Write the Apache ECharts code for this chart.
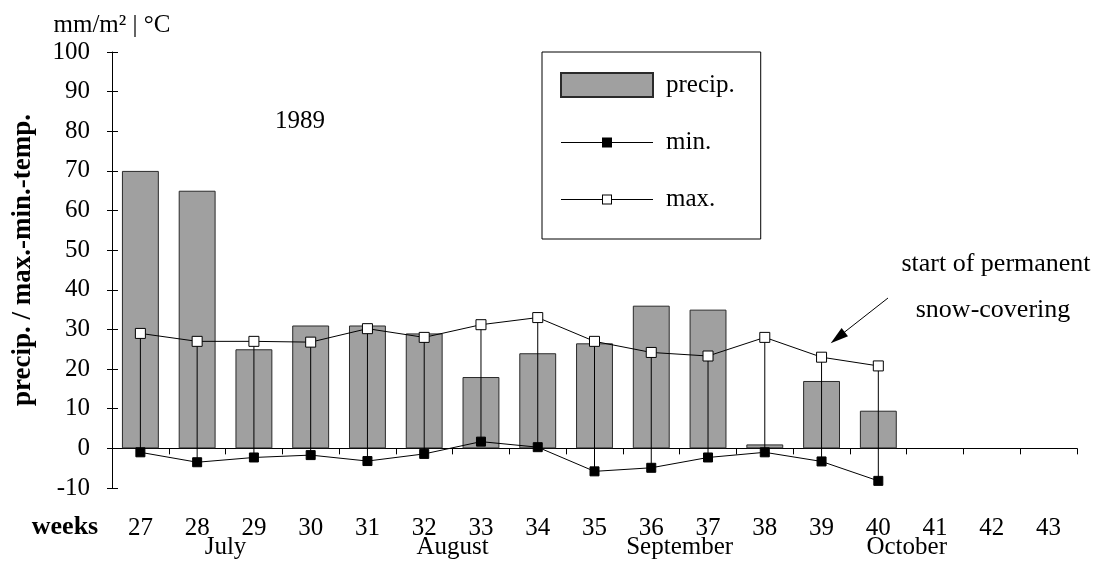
<!DOCTYPE html>
<html><head><meta charset="utf-8">
<script src="https://cdn.jsdelivr.net/npm/echarts@6/dist/echarts.min.js"></script>
<style>html,body{margin:0;padding:0;background:#fff}#c{width:1105px;height:561px}</style>
</head><body><div id="c"></div>
<script>
// ---- data ----
const weeks = ['27','28','29','30','31','32','33','34','35','36','37','38','39','40','41','42','43'];
const precip = [70, 65, 25, 31, 31, 29, 18, 24, 26.5, 36, 35, 1, 17, 9.5, null, null, null];
const tMin = [-1, -3.5, -2.3, -1.7, -3.2, -1.4, 1.7, 0.3, -5.8, -4.9, -2.3, -1, -3.3, -8.2, null, null, null];
const tMax = [29, 27, 27, 26.8, 30.2, 28, 31.2, 33, 27, 24.2, 23.3, 28, 23, 20.8, null, null, null];
const months = ['July', 'August', 'September', 'October'];
const monthWeek = [28.5, 32.5, 36.5, 40.5];   // month label sits between these weeks
const yMin = -10, yMax = 100, yStep = 10;

const SERIF = '"Liberation Serif", "DejaVu Serif", serif';
const minIcon = 'path://M0,11.5h41v1H0z M41,7h10v10H41z M51,11.5h41v1H51z';
const maxIcon = 'path://M0,11.5h41v1H0z M41,7h10v10h-10z M42,8v8h8v-8z M51,11.5h41v1H51z';

const chart = echarts.init(document.getElementById('c'), null, {renderer: 'canvas'});
const weekIdx = weeks.map((w, i) => i);
const hiLo = weekIdx.filter(i => tMin[i] != null && tMax[i] != null).map(i => [i, tMin[i], tMax[i]]);

chart.setOption({
  animation: false,
  backgroundColor: '#fff',
  textStyle: {fontFamily: SERIF, color: '#000'},
  grid: {left: 112, right: 28, top: 52, bottom: 73, containLabel: false, outerBoundsMode: 'none'},
  legend: {
    orient: 'vertical', left: 542, top: 52,
    padding: [20, 26, 27, 18],
    itemWidth: 92, itemHeight: 24, itemGap: 32,
    borderColor: '#000', borderWidth: 1,
    symbolKeepAspect: true, selectedMode: false,
    textStyle: {fontFamily: SERIF, fontSize: 25, color: '#000', padding: [0, 0, 0, 8]},
    data: [
      {name: 'precip.', icon: 'rect'},
      {name: 'min.', icon: minIcon, itemStyle: {color: '#000', borderWidth: 0}},
      {name: 'max.', icon: maxIcon, itemStyle: {color: '#000', borderWidth: 0}}
    ]
  },
  xAxis: [
    {
      type: 'category', data: weeks, position: 'bottom',
      axisLine: {onZero: true, lineStyle: {color: '#000', width: 1}},
      axisTick: {show: true, length: 6, lineStyle: {color: '#000'}},
      axisLabel: {margin: 28, fontFamily: SERIF, fontSize: 25, color: '#000', interval: 0},
      splitLine: {show: false}
    },
    {
      type: 'value', position: 'bottom', min: 26.5, max: 43.5, interval: 0.5,
      axisLine: {show: false}, axisTick: {show: false}, splitLine: {show: false},
      axisLabel: {
        margin: 47, fontFamily: SERIF, fontSize: 25, color: '#000',
        showMinLabel: true, showMaxLabel: true, hideOverlap: false,
        formatter: v => { const k = monthWeek.indexOf(v); return k >= 0 ? months[k] : ''; }
      }
    }
  ],
  yAxis: [
    {
      type: 'value', min: yMin, max: yMax, interval: yStep, position: 'left',
      axisLine: {show: true, onZero: false, lineStyle: {color: '#000'}},
      axisTick: {show: true, length: 5, lineStyle: {color: '#000'}},
      axisLabel: {margin: 22, fontFamily: SERIF, fontSize: 25, color: '#000'},
      splitLine: {show: false}
    },
    {
      type: 'value', min: yMin, max: yMax, interval: yStep, position: 'left',
      axisLine: {show: false, onZero: false},
      axisTick: {show: true, inside: true, length: 6, lineStyle: {color: '#000'}},
      axisLabel: {show: false}, splitLine: {show: false},
      name: 'mm/m² | °C', nameLocation: 'end', nameGap: 14,
      nameTextStyle: {fontFamily: SERIF, fontSize: 25, color: '#000', align: 'center'}
    }
  ],
  series: [
    {
      name: 'precip.', type: 'bar', data: precip, barWidth: '65%',
      itemStyle: {color: '#a0a0a0', borderColor: '#2a2a2a', borderWidth: 1},
      z: 2
    },
    {
      name: 'hilo', type: 'custom', data: hiLo, z: 3,
      encode: {x: 0, y: [1, 2]},
      renderItem: (params, api) => {
        const lo = api.coord([api.value(0), api.value(1)]);
        const hi = api.coord([api.value(0), api.value(2)]);
        return {type: 'line', shape: {x1: lo[0], y1: lo[1], x2: hi[0], y2: hi[1]},
                style: {stroke: '#000', lineWidth: 1}};
      }
    },
    {
      name: 'min.', type: 'line', data: tMin, z: 4,
      symbol: 'rect', symbolSize: 9, showAllSymbol: true,
      lineStyle: {color: '#000', width: 1},
      itemStyle: {color: '#000', borderColor: '#000', borderWidth: 1}
    },
    {
      name: 'max.', type: 'line', data: tMax, z: 4,
      symbol: 'rect', symbolSize: 10, showAllSymbol: true,
      lineStyle: {color: '#000', width: 1},
      itemStyle: {color: '#fff', borderColor: '#000', borderWidth: 1}
    }
  ],
  graphic: [
    {type: 'text', x: 300, y: 121, style: {text: '1989', font: '25px ' + SERIF, fill: '#000', align: 'center', verticalAlign: 'middle'}},
    {type: 'text', x: 65, y: 527, style: {text: 'weeks', font: 'bold 26px ' + SERIF, fill: '#000', align: 'center', verticalAlign: 'middle'}},
    {type: 'text', x: 23, y: 260, rotation: Math.PI / 2, style: {text: 'precip. / max.-min.-temp.', font: 'bold 27px ' + SERIF, fill: '#000', align: 'center', verticalAlign: 'middle'}},
    {type: 'text', x: 996, y: 264, style: {text: 'start of permanent', font: '26px ' + SERIF, fill: '#000', align: 'center', verticalAlign: 'middle'}},
    {type: 'text', x: 993, y: 310, style: {text: 'snow-covering', font: '26px ' + SERIF, fill: '#000', align: 'center', verticalAlign: 'middle'}},
    {type: 'line', shape: {x1: 888, y1: 298, x2: 844, y2: 332.5}, style: {stroke: '#000', lineWidth: 1}},
    {type: 'polygon', shape: {points: [[830.7, 343.3], [848, 336.2], [841.6, 328.1]]}, style: {fill: '#000'}}
  ]
});
</script>
</body></html>
